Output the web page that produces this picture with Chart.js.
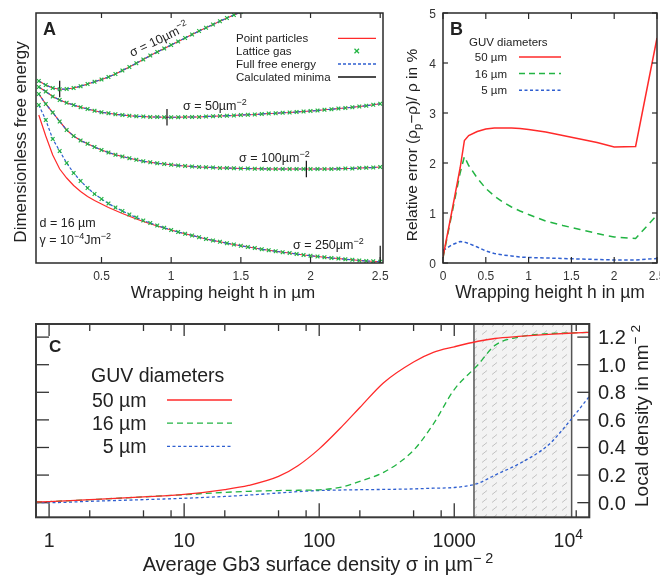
<!DOCTYPE html>
<html>
<head>
<meta charset="utf-8">
<script src="https://cdn.jsdelivr.net/npm/chart.js@4.4.1/dist/chart.umd.min.js"></script>
<style>
html, body { margin: 0; padding: 0; background: #fff; }
#wrap { position: relative; width: 660px; height: 579px; overflow: hidden; }
#wrap canvas { position: absolute; left: 0; top: 0; }
</style>
</head>
<body>
<div id="wrap">
<canvas id="chartA" width="660" height="579"></canvas>
<canvas id="chartB" width="660" height="579"></canvas>
<canvas id="chartC" width="660" height="579"></canvas>
</div>
<script>
// ---------- panel A: dimensionless free energy (arbitrary units) vs wrapping height
const hA = [0.05, 0.10, 0.15, 0.20, 0.25, 0.30, 0.35, 0.40, 0.45, 0.50,
  0.55, 0.60, 0.65, 0.70, 0.75, 0.80, 0.85, 0.90, 0.95, 1.00,
  1.05, 1.10, 1.15, 1.20, 1.25, 1.30, 1.35, 1.40, 1.45, 1.50,
  1.55, 1.60, 1.65, 1.70, 1.75, 1.80, 1.85, 1.90, 1.95, 2.00,
  2.05, 2.10, 2.15, 2.20, 2.25, 2.30, 2.35, 2.40, 2.45, 2.50];
const fe10 = [72.8, 71.2, 70, 69.5, 69.6, 70, 70.7, 71.6, 72.5, 73.4,
  74.4, 75.6, 77, 78.4, 79.9, 81.4, 83, 84.4, 85.8, 87.2,
  88.6, 90, 91.4, 92.8, 94.1, 95.4, 96.7, 98, 99.2, 100.4, 101.6];
const fe50 = [70.4, 68.6, 66.6, 65.2, 64.1, 63.2, 62.3, 61.6, 60.9, 60.3,
  59.9, 59.5, 59.2, 58.9, 58.7, 58.6, 58.4, 58.4, 58.3, 58.3,
  58.3, 58.4, 58.4, 58.4, 58.6, 58.7, 58.8, 58.9, 59, 59.2,
  59.3, 59.4, 59.6, 59.8, 59.9, 60.1, 60.2, 60.4, 60.6, 60.8,
  61, 61.3, 61.5, 61.8, 62, 62.3, 62.6, 62.9, 63.3, 63.7];
const fe100 = [67.6, 63.6, 60.2, 56.6, 53.2, 50.8, 49, 47.7, 46.4, 45.2,
  44.2, 43.3, 42.6, 41.9, 41.3, 40.7, 40.3, 39.9, 39.6, 39.3,
  39, 38.8, 38.6, 38.4, 38.3, 38.2, 38, 38, 37.9, 37.8,
  37.8, 37.7, 37.7, 37.6, 37.6, 37.6, 37.6, 37.6, 37.6, 37.6,
  37.6, 37.6, 37.6, 37.7, 37.8, 37.8, 38, 38.1, 38.2, 38.4];
const fe250 = [63.2, 57.2, 49.6, 44.8, 40, 36, 32.8, 30, 27.6, 25.6,
  23.8, 22.2, 20.8, 19.4, 18.2, 17, 16, 15, 14.1, 13.2,
  12.4, 11.7, 11, 10.3, 9.6, 9, 8.5, 7.9, 7.4, 6.9,
  6.4, 6, 5.5, 5.1, 4.7, 4.3, 4, 3.6, 3.2, 2.9,
  2.6, 2.3, 2, 1.8, 1.5, 1.3, 1, 0.8, 0.7, 0.5];
// point-particle model for sigma = 250 (the only one that separates visibly)
const fePoint250 = [59.2, 50.8, 43.2, 37.6, 34, 31, 28.6, 26.6, 25, 23.6,
  22.2, 21, 19.8, 18.7, 17.6, 16.6, 15.7, 14.8, 14, 13.2,
  12.4, 11.7, 11, 10.3, 9.6, 9, 8.5, 7.9, 7.4, 6.9,
  6.4, 6, 5.5, 5.1, 4.7, 4.3, 4, 3.6, 3.2, 2.9,
  2.6, 2.3, 2, 1.8, 1.5, 1.3, 1, 0.8, 0.7, 0.5];
const minH = [0.2, 0.97, 1.97, 2.5];
const minF = [69.6, 58.3, 37.6, 3.6];
const ticksA = [0.5, 1, 1.5, 2, 2.5];

// ---------- panel B: relative error in % vs wrapping height
const hB = [0, 0.1, 0.2, 0.25, 0.3, 0.4, 0.5, 0.6, 0.7, 0.8, 0.9, 1.0, 1.2, 1.4, 1.6, 1.8, 2.0, 2.25, 2.5];
const err50 = [0.12, 1.0, 1.9, 2.45, 2.55, 2.63, 2.68, 2.7, 2.7, 2.7, 2.69, 2.67, 2.62, 2.55, 2.48, 2.41, 2.32, 2.33, 4.5];
const err16 = [0.1, 0.95, 1.8, 2.13, 1.95, 1.7, 1.49, 1.34, 1.22, 1.12, 1.04, 0.97, 0.84, 0.75, 0.67, 0.59, 0.52, 0.49, 0.96];
const err5 = [0.25, 0.36, 0.43, 0.42, 0.39, 0.32, 0.24, 0.19, 0.16, 0.14, 0.12, 0.11, 0.1, 0.09, 0.08, 0.07, 0.06, 0.06, 0.09];
const ticksBx = [0, 0.5, 1, 1.5, 2, 2.5];
const ticksBy = [0, 1, 2, 3, 4, 5];

// ---------- panel C: local density (nm^-2) vs average Gb3 surface density (um^-2)
const sigmaC = [0.8, 1, 2, 5, 10, 20, 30, 50, 70, 100, 150, 200, 300, 500, 700, 1000, 1500, 2000, 3000, 5000, 7000, 10000];
const dens50 = [0.005, 0.008, 0.022, 0.042, 0.06, 0.095, 0.125, 0.19, 0.27, 0.39, 0.56, 0.69, 0.87, 1.02, 1.09, 1.13, 1.17, 1.19, 1.205, 1.22, 1.228, 1.235];
const dens16 = [0.005, 0.008, 0.022, 0.042, 0.058, 0.075, 0.082, 0.088, 0.09, 0.093, 0.115, 0.155, 0.22, 0.38, 0.57, 0.82, 1.0, 1.14, 1.2, 1.225, 1.23, 1.235];
const dens5 = [0, 0, 0.01, 0.022, 0.032, 0.045, 0.055, 0.07, 0.08, 0.088, 0.092, 0.094, 0.096, 0.1, 0.105, 0.11, 0.14, 0.2, 0.28, 0.42, 0.58, 0.77];
const bandC = [1400, 7400];
const majorC = [1, 10, 100, 1000, 10000];
const minorC = [2, 5, 8, 20, 50, 80, 200, 500, 800, 2000, 5000, 8000];
const ticksCy = [0, 0.2, 0.4, 0.6, 0.8, 1.0, 1.2];

const RED = "#ff2a2a", GREEN = "#22b443", BLUE = "#2f5fd0", INK = "#2a2a2a";
const SANS = '"Liberation Sans", Arial, Helvetica, sans-serif';

function xy(xs, ys) {
  const out = [];
  ys.forEach((y, i) => { if (y !== null && y !== undefined) out.push({ x: xs[i], y: y }); });
  return out;
}

function seg(ctx, x1, y1, x2, y2) {
  ctx.beginPath(); ctx.moveTo(x1, y1); ctx.lineTo(x2, y2); ctx.stroke();
}

// "a^{b}" is superscript, "a_{b}" subscript
function parts(str) {
  const out = [];
  const re = /([\^_])\{([^}]*)\}|([^\^_]+)/g;
  let m;
  while ((m = re.exec(str))) {
    if (m[3]) out.push({ t: m[3] });
    else out.push({ t: m[2], sup: m[1] === "^", sub: m[1] === "_" });
  }
  return out;
}

function text(ctx, str, x, y, size, opts) {
  opts = opts || {};
  const ps = parts(str);
  const font = s => (opts.bold ? "bold " : "") + s + "px " + (opts.family || SANS);
  let w = 0;
  ps.forEach(p => { ctx.font = font(p.sup || p.sub ? size * 0.72 : size); w += ctx.measureText(p.t).width; });
  let cx = x;
  if (opts.align === "center") cx = x - w / 2;
  if (opts.align === "right") cx = x - w;
  ctx.textAlign = "left";
  ctx.textBaseline = "alphabetic";
  ps.forEach(p => {
    const s = p.sup || p.sub ? size * 0.72 : size;
    ctx.font = font(s);
    const dy = p.sup ? -size * 0.42 : (p.sub ? size * 0.28 : 0);
    ctx.fillText(p.t, cx, y + dy);
    cx += ctx.measureText(p.t).width;
  });
}

function turned(ctx, str, x, y, angle, size, opts) {
  ctx.save();
  ctx.translate(x, y);
  ctx.rotate(angle);
  text(ctx, str, 0, 0, size, opts);
  ctx.restore();
}

function lineSet(data, color, width, dash, order) {
  return { data: data, borderColor: color, borderWidth: width, borderDash: dash || [],
    pointRadius: 0, fill: false, tension: 0, order: order };
}

function markSet(data, color, order) {
  return { data: data, showLine: false, pointStyle: "crossRot", pointRadius: 2.6,
    pointBorderColor: color, pointBackgroundColor: color, pointBorderWidth: 1.2,
    borderColor: color, order: order };
}

function baseOptions(pad, xs, ys) {
  return {
    responsive: false,
    animation: false,
    events: [],
    layout: { padding: pad },
    plugins: { legend: { display: false }, tooltip: { enabled: false } },
    scales: { x: xs, y: ys }
  };
}

// ---------------- panel A
const datasetsA = [];
[fe10, fe50, fe100, fe250].forEach((fe, i) => {
  datasetsA.push(lineSet(xy(hA, i === 3 ? fePoint250 : fe), RED, 1.2, [], 3));
  datasetsA.push(lineSet(xy(hA, fe), BLUE, 1.2, [3, 2], 2));
  datasetsA.push(markSet(xy(hA, fe), GREEN, 0));
});
const minPts = [];
minH.forEach((h, i) => {
  minPts.push({ x: h, y: minF[i] - 3.3 }, { x: h, y: minF[i] + 3.3 }, { x: h, y: null });
});
datasetsA.push(lineSet(minPts, "#111", 1.2, [], 1));

const panelA = {
  id: "panelA",
  afterDatasetsDraw(chart) {
    const ctx = chart.ctx, a = chart.chartArea, x = chart.scales.x;
    ctx.save();
    ctx.strokeStyle = INK;
    ctx.lineWidth = 1.5;
    ctx.strokeRect(a.left, a.top, a.right - a.left, a.bottom - a.top);
    ctx.lineWidth = 1.2;
    ctx.fillStyle = "#333";
    ticksA.forEach(v => {
      const px = x.getPixelForValue(v);
      seg(ctx, px, a.top, px, a.top + 5);
      seg(ctx, px, a.bottom, px, a.bottom - 6);
      text(ctx, String(v), px, 280, 12, { align: "center" });
    });
    ctx.fillStyle = "#222";
    text(ctx, "A", 43, 35, 18, { bold: true });
    turned(ctx, "Dimensionless free energy", 26, 142, -Math.PI / 2, 17, { align: "center" });
    text(ctx, "Wrapping height h in µm", 223, 298, 17, { align: "center" });

    // legend
    const legend = ["Point particles", "Lattice gas", "Full free energy", "Calculated minima"];
    legend.forEach((s, i) => text(ctx, s, 236, 42 + i * 13, 11.5));
    ctx.lineWidth = 1.3;
    ctx.strokeStyle = RED; seg(ctx, 338, 38.3, 376, 38.3);
    ctx.strokeStyle = GREEN; seg(ctx, 354.5, 48.8, 359, 53.3); seg(ctx, 354.5, 53.3, 359, 48.8);
    ctx.strokeStyle = BLUE; ctx.setLineDash([3, 2]); seg(ctx, 338, 64, 376, 64); ctx.setLineDash([]);
    ctx.strokeStyle = "#111"; seg(ctx, 338, 77, 376, 77);

    // curve annotations
    ctx.fillStyle = "#222";
    turned(ctx, "σ = 10µm^{−2}", 132, 57, -0.45, 12.5);
    text(ctx, "σ = 50µm^{−2}", 183, 110, 12.5);
    text(ctx, "σ = 100µm^{−2}", 239, 162, 12.5);
    text(ctx, "σ = 250µm^{−2}", 293, 249, 12.5);
    text(ctx, "d = 16 µm", 39.5, 227, 12.5);
    text(ctx, "γ = 10^{−4}Jm^{−2}", 39.5, 244, 12.5);
    ctx.restore();
  }
};

new Chart(document.getElementById("chartA"), {
  type: "line",
  data: { datasets: datasetsA },
  options: baseOptions({ left: 36, top: 13, right: 277, bottom: 316 },
    { type: "linear", display: false, min: 0.03, max: 2.52 },
    { type: "linear", display: false, min: 0, max: 100 }),
  plugins: [panelA]
});

// ---------------- panel B
const panelB = {
  id: "panelB",
  afterDatasetsDraw(chart) {
    const ctx = chart.ctx, a = chart.chartArea, x = chart.scales.x, y = chart.scales.y;
    ctx.save();
    ctx.strokeStyle = INK;
    ctx.lineWidth = 1.5;
    ctx.strokeRect(a.left, a.top, a.right - a.left, a.bottom - a.top);
    ctx.lineWidth = 1.2;
    ctx.fillStyle = "#333";
    ticksBx.forEach(v => {
      const px = x.getPixelForValue(v);
      seg(ctx, px, a.top, px, a.top + 6);
      seg(ctx, px, a.bottom, px, a.bottom - 6);
      text(ctx, String(v), px, 280, 12, { align: "center" });
    });
    ticksBy.forEach(v => {
      const py = y.getPixelForValue(v);
      seg(ctx, a.left, py, a.left + 5, py);
      seg(ctx, a.right, py, a.right - 5, py);
      text(ctx, String(v), 436, py + 4.5, 12, { align: "right" });
    });
    ctx.fillStyle = "#222";
    text(ctx, "B", 450, 35, 18, { bold: true });
    turned(ctx, "Relative error (ρ_{p}−ρ)/ ρ in %", 417, 145, -Math.PI / 2, 15.5, { align: "center" });
    text(ctx, "Wrapping height h in µm", 550, 298, 17.5, { align: "center" });

    text(ctx, "GUV diameters", 469, 46, 11.5);
    const names = ["50 µm", "16 µm", "5 µm"];
    const styles = [[RED, []], [GREEN, [6, 4]], [BLUE, [3, 2.5]]];
    names.forEach((s, i) => {
      const ly = 57 + i * 16.6;
      text(ctx, s, 507, ly + 4, 11.5, { align: "right" });
      ctx.strokeStyle = styles[i][0];
      ctx.setLineDash(styles[i][1]);
      ctx.lineWidth = 1.5;
      seg(ctx, 519, ly, 561, ly);
    });
    ctx.restore();
  }
};

new Chart(document.getElementById("chartB"), {
  type: "line",
  data: {
    datasets: [
      lineSet(xy(hB, err5), BLUE, 1.5, [3.5, 2.5], 2),
      lineSet(xy(hB, err16), GREEN, 1.5, [7, 5], 1),
      lineSet(xy(hB, err50), RED, 1.5, [], 0)
    ]
  },
  options: baseOptions({ left: 443, top: 13, right: 3, bottom: 316 },
    { type: "linear", display: false, min: 0, max: 2.5 },
    { type: "linear", display: false, min: 0, max: 5 }),
  plugins: [panelB]
});

// ---------------- panel C
function hatch(ctx) {
  const c = document.createElement("canvas");
  c.width = 10; c.height = 8;
  const g = c.getContext("2d");
  g.fillStyle = "#f3f3f3";
  g.fillRect(0, 0, 10, 8);
  g.strokeStyle = "#c2c2c2";
  g.lineWidth = 1;
  g.beginPath(); g.moveTo(2, 6.5); g.lineTo(7, 2.5); g.stroke();
  return ctx.createPattern(c, "repeat");
}

const panelC = {
  id: "panelC",
  beforeDatasetsDraw(chart) {
    const ctx = chart.ctx, a = chart.chartArea, x = chart.scales.x, y = chart.scales.y;
    ctx.save();
    ctx.strokeStyle = "#333";
    ctx.lineWidth = 1.3;
    majorC.forEach(v => {
      const px = x.getPixelForValue(v);
      seg(ctx, px, a.top, px, a.top + 12);
      seg(ctx, px, a.bottom, px, a.bottom - 14);
    });
    minorC.forEach(v => {
      const px = x.getPixelForValue(v);
      seg(ctx, px, a.top, px, a.top + 7);
      seg(ctx, px, a.bottom, px, a.bottom - 7);
    });
    ticksCy.forEach(v => {
      const py = y.getPixelForValue(v);
      seg(ctx, a.left, py, a.left + 13, py);
      seg(ctx, a.right, py, a.right - 12, py);
    });
    // shaded range
    const x0 = x.getPixelForValue(bandC[0]), x1 = x.getPixelForValue(bandC[1]);
    ctx.fillStyle = hatch(ctx);
    ctx.fillRect(x0, a.top, x1 - x0, a.bottom - a.top);
    ctx.strokeStyle = "#555";
    ctx.lineWidth = 1.5;
    seg(ctx, x0, a.top, x0, a.bottom);
    seg(ctx, x1, a.top, x1, a.bottom);
    ctx.restore();
  },
  afterDatasetsDraw(chart) {
    const ctx = chart.ctx, a = chart.chartArea, x = chart.scales.x, y = chart.scales.y;
    ctx.save();
    ctx.strokeStyle = "#3a3a3a";
    ctx.lineWidth = 2;
    ctx.strokeRect(a.left, a.top, a.right - a.left, a.bottom - a.top);
    ctx.fillStyle = "#222";
    majorC.forEach(v => {
      let px = x.getPixelForValue(v);
      const label = v === 10000 ? "10^{4}" : String(v);
      if (v === 10000) px -= 21;
      text(ctx, label, px, 547, 19.5, { align: "center" });
    });
    ticksCy.forEach(v => {
      const py = y.getPixelForValue(v);
      text(ctx, v.toFixed(1), 598, py + 7, 20);
    });
    text(ctx, "C", 49, 352, 17, { bold: true });
    text(ctx, "Average Gb3 surface density σ in µm^{− 2}", 318, 571, 20, { align: "center" });
    turned(ctx, "Local density in nm^{− 2}", 648, 507, -Math.PI / 2, 19);

    text(ctx, "GUV diameters", 91, 382, 19.5);
    const names = ["50 µm", "16 µm", "5 µm"];
    const styles = [[RED, []], [GREEN, [6, 4]], [BLUE, [3, 2.5]]];
    names.forEach((s, i) => {
      const ly = 400 + i * 23.2;
      text(ctx, s, 146.5, ly + 7, 19.5, { align: "right" });
      ctx.strokeStyle = styles[i][0];
      ctx.setLineDash(styles[i][1]);
      ctx.lineWidth = 1.3;
      seg(ctx, 167, ly, 232, ly);
    });
    ctx.restore();
  }
};

function smooth(ds) { ds.cubicInterpolationMode = "monotone"; return ds; }

new Chart(document.getElementById("chartC"), {
  type: "line",
  data: {
    datasets: [
      smooth(lineSet(xy(sigmaC, dens5), BLUE, 1.3, [3, 2.5], 2)),
      smooth(lineSet(xy(sigmaC, dens16), GREEN, 1.3, [6, 4], 1)),
      smooth(lineSet(xy(sigmaC, dens50), RED, 1.3, [], 0))
    ]
  },
  options: baseOptions({ left: 36, top: 324, right: 70.7, bottom: 61.7 },
    { type: "logarithmic", display: false, min: 0.8, max: 10000 },
    { type: "linear", display: false, min: -0.106, max: 1.295 }),
  plugins: [panelC]
});
</script>
</body>
</html>
